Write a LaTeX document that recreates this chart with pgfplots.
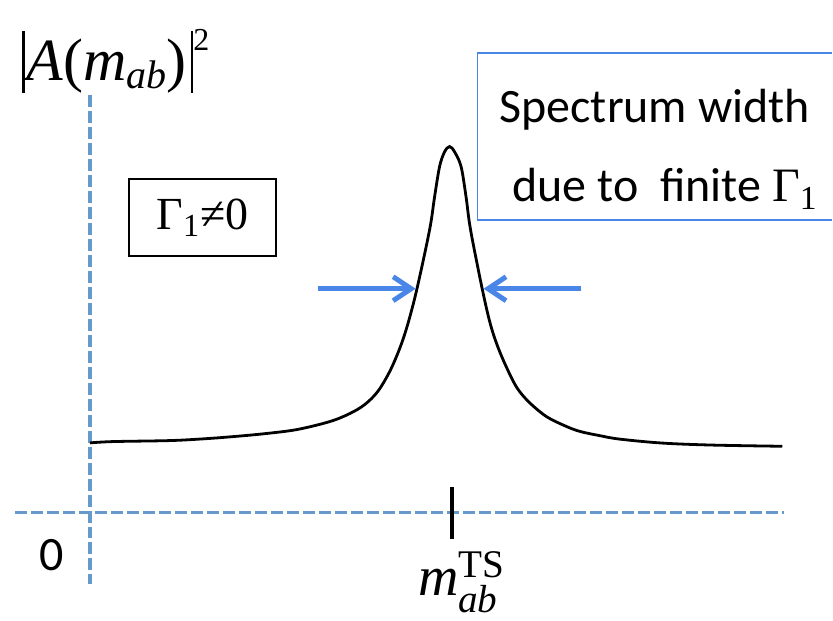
\documentclass[border=0pt]{standalone}
\usepackage{amsmath}
\usepackage[no-math]{fontspec}
\setmainfont{Carlito}
\newfontfamily\tnr{Liberation Serif}
\usepackage{pgfplots}
\pgfplotsset{compat=1.18}
\usetikzlibrary{arrows.meta}

\definecolor{axisblue}{RGB}{102,153,204}
\definecolor{arrowblue}{RGB}{74,134,232}

\newcommand{\ti}[1]{\text{\tnr\itshape #1}}
\newcommand{\tr}[1]{\text{\tnr #1}}
\newcommand{\vbar}{\rule[-6pt]{1.3pt}{31pt}}

\begin{document}
\begin{tikzpicture}
  \begin{axis}[
    width=416.5pt, height=305pt, scale only axis,
    xmin=-90, xmax=743, ymin=-97, ymax=513,
    hide axis, clip=false,
  ]
  % frame for the page size
  \path (axis cs:-90,-97) rectangle (axis cs:743,513);

  % dashed axes
  \addplot[axisblue, line width=1.8pt, dash pattern=on 6pt off 2pt]
    coordinates {(0,418) (0,-72)};
  \addplot[axisblue, line width=1.8pt, dash pattern=on 6pt off 2pt]
    coordinates {(-75,0) (695,0)};

  % spectrum
  \addplot[black, line width=1.4pt, smooth, tension=0.55] coordinates {
    (0,69.7) (23,71) (80,72) (113,73.7) (140,75.7) (173,78.7) (207,83)
    (240,91) (260,99) (275,108) (288,121) (300,141) (310,164)
    (318,188) (327.3,223.7) (340,283) (345,316) (350,346.3) (355,361) (360,366.3)
    (365,361) (371.5,346.3) (376.5,316) (381,283) (392.7,223.7) (401,188)
    (409,164) (419,141) (428,124) (440,110) (457,96) (475,87) (490,81.3)
    (510,77) (530,73.5) (573,69.5) (623,67.5) (693,66.3)
  };

  % width arrows
  \addplot[arrowblue, line width=2.5pt, -{Straight Barb[length=9pt,width=12pt,line width=2.5pt]}]
    coordinates {(228,224) (326,224)};
  \addplot[arrowblue, line width=2.5pt, -{Straight Barb[length=9pt,width=12pt,line width=2.5pt]}]
    coordinates {(492,224) (394,224)};

  % tick at m_ab^TS
  \addplot[black, line width=2pt] coordinates {(362,26) (362,-27)};

  % labels
  \node[anchor=base west, inner sep=0pt, font=\fontsize{30}{32}\selectfont]
    at (axis cs:-68,432) {\vbar\hspace{1pt}{\tnr\itshape A}{\tnr(}{\tnr\itshape m}\raisebox{-4pt}{\fontsize{20}{21}\selectfont\tnr\itshape ab}{\tnr)}\hspace{2pt}\vbar\raisebox{15pt}{\fontsize{16}{17}\selectfont\tnr 2}};
  \node[anchor=center, font=\fontsize{24}{28}\selectfont]
    at (axis cs:-38,-43) {0};
  \node[anchor=center, font=\fontsize{28}{30}\selectfont]
    at (axis cs:372,-70) {$\ti{m}_{\ti{ab}}^{\tr{TS}}$};

  % Gamma box
  \draw[black, line width=1pt] (axis cs:39.3,256.3) rectangle (axis cs:186,333.7);
  \node[anchor=center, font=\fontsize{23}{26}\selectfont]
    at (axis cs:112.6,295) {\tnr Γ\textsubscript{1}≠0};

  % spectrum width box
  \draw[arrowblue, line width=0.8pt]
    (axis cs:743,460) -- (axis cs:388,460) -- (axis cs:388,293) -- (axis cs:743,293);
  \node[anchor=base west, font=\fontsize{24}{28}\selectfont]
    at (axis cs:403,390) {Spectrum width};
  \node[anchor=base west, font=\fontsize{24}{28}\selectfont]
    at (axis cs:416,311) {due to\ \ finite {\tnr Γ\textsubscript{1}}};
  \end{axis}
\end{tikzpicture}
\end{document}
